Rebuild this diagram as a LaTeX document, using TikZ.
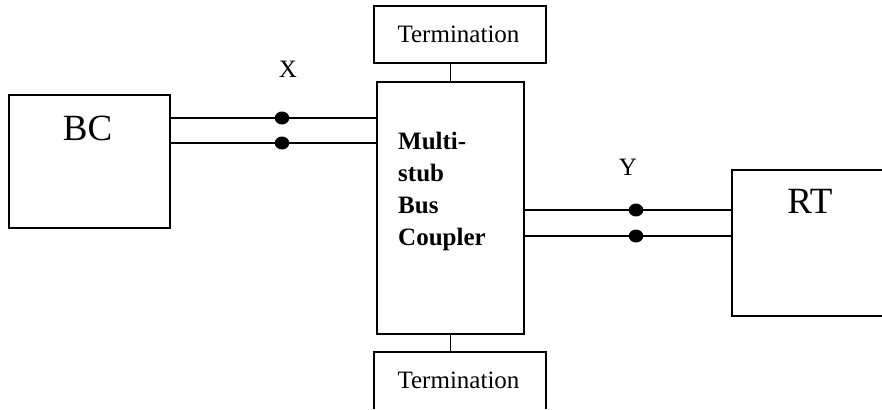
\documentclass[tikz,border=0pt]{standalone}
\usepackage{fontspec}
\setmainfont{Liberation Serif}
\usetikzlibrary{shapes.geometric}
\begin{document}
\begin{tikzpicture}[x=1pt,y=-1pt,
  box/.style={draw=black,line width=1.9pt,inner sep=0pt},
  openbox/.style={draw=none,inner sep=0pt},
  wire/.style={draw=black,line width=1.9pt},
  dotnode/.style={ellipse,fill=black,draw=none,minimum width=14.5pt,minimum height=13pt,inner sep=0pt},
  lbl/.style={inner sep=0pt,font=\fontsize{25}{32}\selectfont},
  biglbl/.style={inner sep=0pt,font=\fontsize{37}{40}\selectfont}]
\useasboundingbox (0,0) rectangle (882,409);
% boxes
\node[box,minimum width=161pt,minimum height=133pt] (bc) at (89.5,161.5) {};
\node[box,minimum width=147pt,minimum height=252pt] (mbc) at (450.5,208) {};
\node[box,minimum width=172pt,minimum height=57pt] (tt) at (460,34.5) {};
\node[openbox,minimum width=172pt,minimum height=57pt] (tb) at (460,380.5) {};
\node[openbox,minimum width=150pt,minimum height=146pt] (rt) at (807,243) {};
\draw[wire] (tb.south west) -- (tb.north west) -- (tb.north east) -- (tb.south east);
\draw[wire] (rt.north east) -- (rt.north west) -- (rt.south west) -- (rt.south east);
% termination connectors
\draw[wire] (mbc.north) -- (mbc.north |- tt.south);
\draw[wire] (mbc.south) -- (mbc.south |- tb.north);
% dots
\node[dotnode] (xa) at (282,118) {};
\node[dotnode] (xb) at (282,143) {};
\node[dotnode] (ya) at (636,210) {};
\node[dotnode] (yb) at (636,236) {};
% wires
\draw[wire] (xa -| bc.east) -- (xa) -- (xa -| mbc.west);
\draw[wire] (xb -| bc.east) -- (xb) -- (xb -| mbc.west);
\draw[wire] (ya -| mbc.east) -- (ya) -- (ya -| rt.west);
\draw[wire] (yb -| mbc.east) -- (yb) -- (yb -| rt.west);
% texts
\node[biglbl,anchor=base] (bct) at (87.5,140) {BC};
\node[biglbl,anchor=base] (rtt) at (810,213) {RT};
\node[lbl,anchor=base] (ttt) at (458.5,43) {Termination};
\node[lbl,anchor=base] (tbt) at (458.5,388) {Termination};
\node[lbl,anchor=base] (xl) at (288,78) {X};
\node[lbl,anchor=base] (yl) at (628,175) {Y};
\node[lbl,anchor=base west,font=\fontsize{25}{32}\selectfont\bfseries] (mt) at (398,149) {Multi-};
\node[lbl,anchor=base west,font=\fontsize{25}{32}\selectfont\bfseries] (st) at (398,181) {stub};
\node[lbl,anchor=base west,font=\fontsize{25}{32}\selectfont\bfseries] (bt) at (398,213) {Bus};
\node[lbl,anchor=base west,font=\fontsize{25}{32}\selectfont\bfseries] (ct) at (398,245) {Coupler};
\end{tikzpicture}
\end{document}
